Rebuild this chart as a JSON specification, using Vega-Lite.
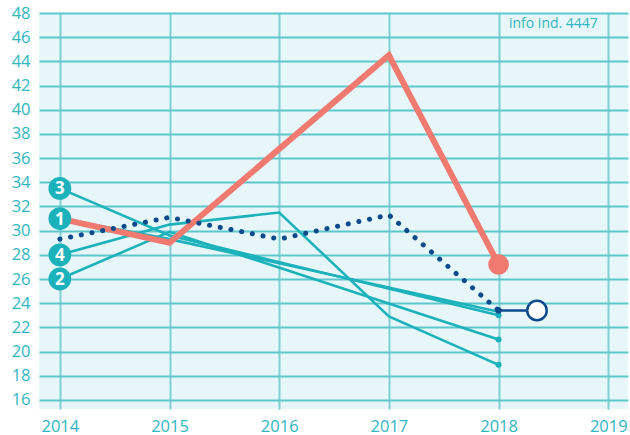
{
  "$schema": "https://vega.github.io/schema/vega-lite/v6.json",
  "width": 589,
  "height": 396,
  "autosize": {"type": "none"},
  "padding": {"left": 39, "top": 13, "right": 2, "bottom": 26},
  "background": "white",
  "config": {
    "view": {"stroke": null, "fill": "#e7f6f9"},
    "font": "Open Sans",
    "axis": {"labelFont": "Open Sans", "labelFontSize": 16.5, "labelColor": "#2fb6c2", "domain": false, "ticks": false, "title": null, "gridWidth": 2},
    "axisX": {"gridColor": "#7fd1d6", "labelPadding": 9},
    "axisY": {"gridColor": "#5cc7cd", "labelPadding": 9}
  },
  "datasets": {
    "series": [
      {"series": "T1", "year": 2014, "value": 31.0},
      {"series": "T1", "year": 2015, "value": 29.3},
      {"series": "T1", "year": 2018, "value": 23.3},
      {"series": "T2", "year": 2014, "value": 26.0},
      {"series": "T2", "year": 2015, "value": 29.9},
      {"series": "T2", "year": 2018, "value": 21.0},
      {"series": "T3", "year": 2014, "value": 33.5},
      {"series": "T3", "year": 2015, "value": 29.6},
      {"series": "T3", "year": 2018, "value": 23.0},
      {"series": "T4", "year": 2014, "value": 28.0},
      {"series": "T4", "year": 2015, "value": 30.5},
      {"series": "T4", "year": 2016, "value": 31.5},
      {"series": "T4", "year": 2017, "value": 22.9},
      {"series": "T4", "year": 2018, "value": 18.9}
    ],
    "salmon": [
      {"year": 2014, "value": 31.0},
      {"year": 2015, "value": 29.0},
      {"year": 2017, "value": 44.5},
      {"year": 2018, "value": 27.2}
    ],
    "avg": [
      {"year": 2014, "value": 29.3},
      {"year": 2015, "value": 31.1},
      {"year": 2016, "value": 29.3},
      {"year": 2017, "value": 31.3},
      {"year": 2018, "value": 23.4}
    ],
    "avgExt": [
      {"year": 2018, "value": 23.4},
      {"year": 2018.35, "value": 23.4}
    ],
    "tealEnds": [
      {"year": 2018, "value": 23.0},
      {"year": 2018, "value": 21.0},
      {"year": 2018, "value": 18.9}
    ],
    "labels": [
      {"label": "3", "year": 2014, "value": 33.5},
      {"label": "1", "year": 2014, "value": 31.0},
      {"label": "4", "year": 2014, "value": 28.0},
      {"label": "2", "year": 2014, "value": 26.0}
    ],
    "info": [{"text": "info ind. 4447", "year": 2018.5, "value": 47.1}]
  },
  "encoding": {
    "x": {"field": "year", "type": "quantitative", "scale": {"domain": [2013.81, 2019.18], "nice": false, "zero": false},
          "axis": {"values": [2014, 2015, 2016, 2017, 2018, 2019], "format": "d"}},
    "y": {"field": "value", "type": "quantitative", "scale": {"domain": [15.25, 48], "nice": false, "zero": false},
          "axis": {"values": [16, 18, 20, 22, 24, 26, 28, 30, 32, 34, 36, 38, 40, 42, 44, 46, 48]}}
  },
  "layer": [
    {"data": {"name": "series"}, "mark": {"type": "line", "color": "#1cb2bc", "strokeWidth": 2.6}, "encoding": {"detail": {"field": "series"}}},
    {"data": {"name": "salmon"}, "mark": {"type": "line", "color": "#f07970", "strokeWidth": 6, "strokeJoin": "miter"}},
    {"data": {"name": "avg"}, "mark": {"type": "line", "color": "#0c4a8c", "strokeWidth": 5, "strokeDash": [0.1, 10.8], "strokeCap": "round"}},
    {"data": {"name": "avgExt"}, "mark": {"type": "line", "color": "#0c4a8c", "strokeWidth": 2.5}},
    {"data": {"name": "tealEnds"}, "mark": {"type": "circle", "color": "#1cb2bc", "opacity": 1, "size": 36}},
    {"data": {"name": "avgExt"}, "transform": [{"filter": "datum.year == 2018"}], "mark": {"type": "circle", "color": "#0c4a8c", "opacity": 1, "size": 40}},
    {"data": {"name": "salmon"}, "transform": [{"filter": "datum.year == 2018"}], "mark": {"type": "circle", "color": "#f07970", "opacity": 1, "size": 430}},
    {"data": {"name": "avgExt"}, "transform": [{"filter": "datum.year > 2018"}], "mark": {"type": "point", "filled": true, "fill": "white", "stroke": "#0c4a8c", "strokeWidth": 2.5, "opacity": 1, "size": 380}},
    {"data": {"name": "labels"}, "mark": {"type": "circle", "color": "#1cb2bc", "opacity": 1, "size": 520}},
    {"data": {"name": "labels"}, "mark": {"type": "text", "color": "white", "fontWeight": "bold", "fontSize": 17, "font": "Open Sans", "baseline": "middle", "align": "center", "dy": 1}, "encoding": {"text": {"field": "label"}}},
    {"data": {"name": "info"}, "mark": {"type": "text", "color": "#2fb6c2", "fontSize": 14, "font": "Open Sans", "align": "center", "baseline": "middle"}, "encoding": {"text": {"field": "text"}}}
  ]
}
